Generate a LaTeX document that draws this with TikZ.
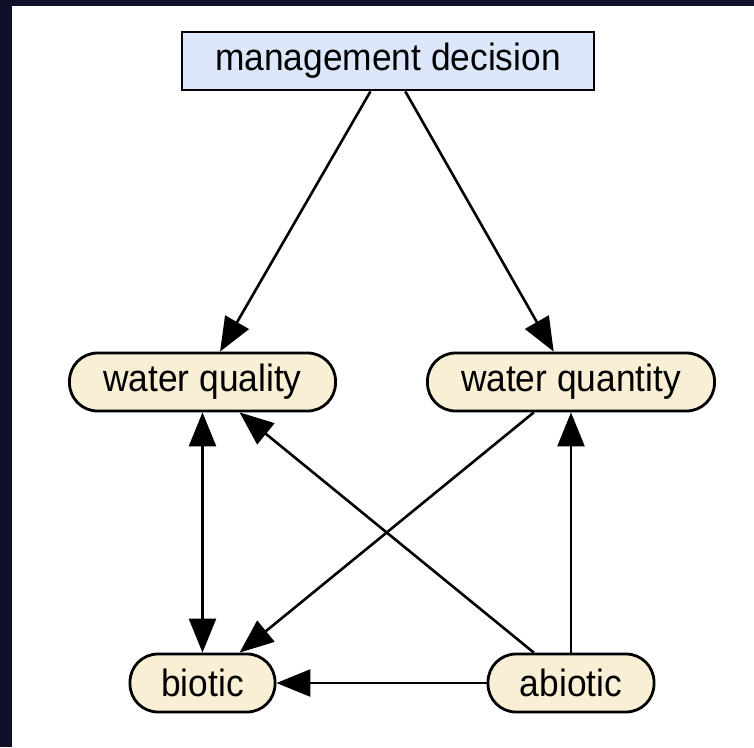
\documentclass[tikz,border=0pt]{standalone}
\usepackage{fontspec}
\setmainfont{Liberation Sans}
\newfontfamily\narrowsans[FakeStretch=0.93]{Liberation Sans}
\usetikzlibrary{arrows.meta}
\definecolor{frameblue}{RGB}{16,16,40}
\definecolor{decisionfill}{RGB}{221,231,252}
\definecolor{varfill}{RGB}{248,239,212}
\tikzset{
  lbl/.style={font=\narrowsans\fontsize{38}{44}\selectfont, text=black, inner sep=0pt},
  decisionbox/.style={lbl, draw=black, line width=2.8pt, fill=decisionfill,
    minimum height=58pt},
  varbox/.style={lbl, draw=black, line width=2.8pt, fill=varfill,
    rounded corners=28pt, minimum height=58pt},
  link/.style={line width=2.6pt, -{Triangle[length=34pt,width=27pt]}},
  twoway/.style={line width=2.6pt, {Triangle[length=34pt,width=27pt]}-{Triangle[length=34pt,width=27pt]}}
}
\begin{document}
\begin{tikzpicture}[x=1pt,y=-1pt]
  % page with dark frame on top and left
  \useasboundingbox (0,0) rectangle (754,747);
  \fill[white] (0,0) rectangle (754,747);
  \fill[frameblue] (0,0) rectangle (754,6);
  \fill[frameblue] (0,0) rectangle (12,747);

  % nodes
  \node[decisionbox, minimum width=412pt] (md) at (388,61) {management decision};
  \node[varbox, minimum width=266pt] (wql) at (202.5,382) {water quality};
  \node[varbox, minimum width=287pt] (wqn) at (571,382) {water quantity};
  \node[varbox, minimum width=145pt] (bio) at (202.5,683) {biotic};
  \node[varbox, minimum width=166pt] (abio) at (571,683) {abiotic};

  % influences
  \draw[link] (md) -- (wql);
  \draw[link] (md) -- (wqn);
  \draw[twoway] (wql) -- (bio);
  \draw[link] (abio) -- (wql);
  \draw[link] (wqn) -- (bio);
  \draw[link] (abio) -- (wqn);
  \draw[link] (abio) -- (bio);
\end{tikzpicture}
\end{document}
